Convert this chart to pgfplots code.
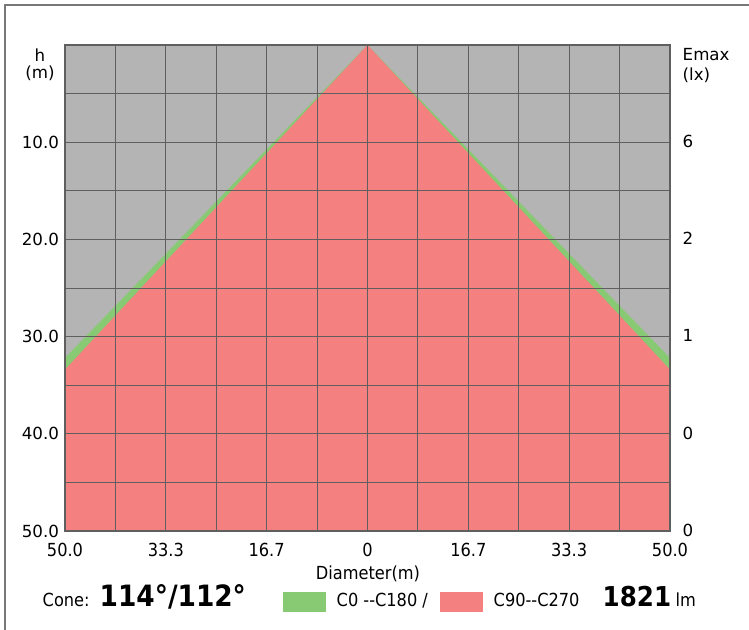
\documentclass[border=0pt]{standalone}
\usepackage{pgfplots}
\pgfplotsset{compat=1.18}
\usepackage{fontspec}
\setmainfont{DejaVu Sans}
\newfontfamily\cond{DejaVu Sans Condensed}
\definecolor{bggrey}{RGB}{180,180,180}
\definecolor{conered}{RGB}{244,128,128}
\definecolor{conegreen}{RGB}{136,201,116}
\definecolor{gridc}{RGB}{95,95,95}
\definecolor{framec}{RGB}{120,120,120}
\begin{document}
\begin{tikzpicture}
\begin{scope}[x=0.75pt,y=-0.75pt,yshift=472.5pt]
\useasboundingbox (0,0) rectangle (749,630);
\draw[framec, line width=1.5pt] (5,630) -- (5,5) -- (749,5);
\end{scope}
\begin{axis}[
  at={(48.75pt,74.25pt)}, anchor=south west,
  scale only axis, width=453.75pt, height=364.5pt,
  xmin=-50, xmax=50, ymin=0, ymax=50, y dir=reverse,
  axis on top,
  axis background/.style={fill=bggrey},
  axis line style={gridc, line width=1.5pt},
  xtick={-50,-33.333,-16.667,0,16.667,33.333,50},
  xticklabels={50.0,33.3,16.7,0,16.7,33.3,50.0},
  minor xtick={-41.667,-25,-8.333,8.333,25,41.667},
  ytick={10,20,30,40,50},
  yticklabels={10.0,20.0,30.0,40.0,50.0},
  minor ytick={5,15,25,35,45},
  grid=both,
  major grid style={gridc, line width=0.75pt},
  minor grid style={gridc, line width=0.75pt},
  major tick length=0pt, minor tick length=0pt,
  xticklabel style={font=\cond\fontsize{13.5}{16}\selectfont, yshift=-5.5pt},
  yticklabel style={font=\fontsize{12.5}{15}\selectfont, xshift=-1pt},
  /pgf/number format/assume math mode=true,
  clip=true,
]
\addplot[fill=conegreen, draw=none] coordinates {(-50,32.2) (0,0) (50,32.2) (50,50) (-50,50)};
\addplot[fill=conered, draw=none] coordinates {(-50,33.4) (0,0) (50,33.4) (50,50) (-50,50)};
\end{axis}
\begin{scope}[x=0.75pt,y=-0.75pt,yshift=472.5pt]
% left axis title
\node[font=\fontsize{12.5}{15}\selectfont] at (40,55) {h};
\node[font=\fontsize{12.5}{15}\selectfont] at (40,73) {(m)};
% right labels
\node[font=\fontsize{12.5}{15}\selectfont, anchor=west] at (678,55) {Emax};
\node[font=\fontsize{12.5}{15}\selectfont, anchor=west] at (678,75) {(lx)};
\foreach \yy/\lab in {141/6, 238/2, 335/1, 433/0, 530/0}
  \node[font=\fontsize{12.5}{15}\selectfont, anchor=west] at (678,\yy) {\lab};
% x title
\node[font=\cond\fontsize{13.5}{16}\selectfont] at (368,574) {Diameter(m)};
% bottom row
\node[font=\cond\fontsize{13.5}{16}\selectfont, anchor=base west] at (38,607) {Cone:};
\node[font=\cond\bfseries\fontsize{22}{24}\selectfont, anchor=base west] at (95,607) {114°/112°};
\fill[conegreen] (283,592) rectangle (326,612);
\node[font=\cond\fontsize{13.5}{16}\selectfont, anchor=base west] at (332,607) {C0 --C180 /};
\fill[conered] (440,592) rectangle (483,612);
\node[font=\cond\fontsize{13.5}{16}\selectfont, anchor=base west] at (489,607) {C90--C270};
\node[font=\cond\bfseries\fontsize{20.5}{24}\selectfont, anchor=base west] at (598,607) {1821};
\node[font=\cond\fontsize{13.5}{16}\selectfont, anchor=base west] at (671,607) {lm};
\end{scope}
\end{tikzpicture}
\end{document}
